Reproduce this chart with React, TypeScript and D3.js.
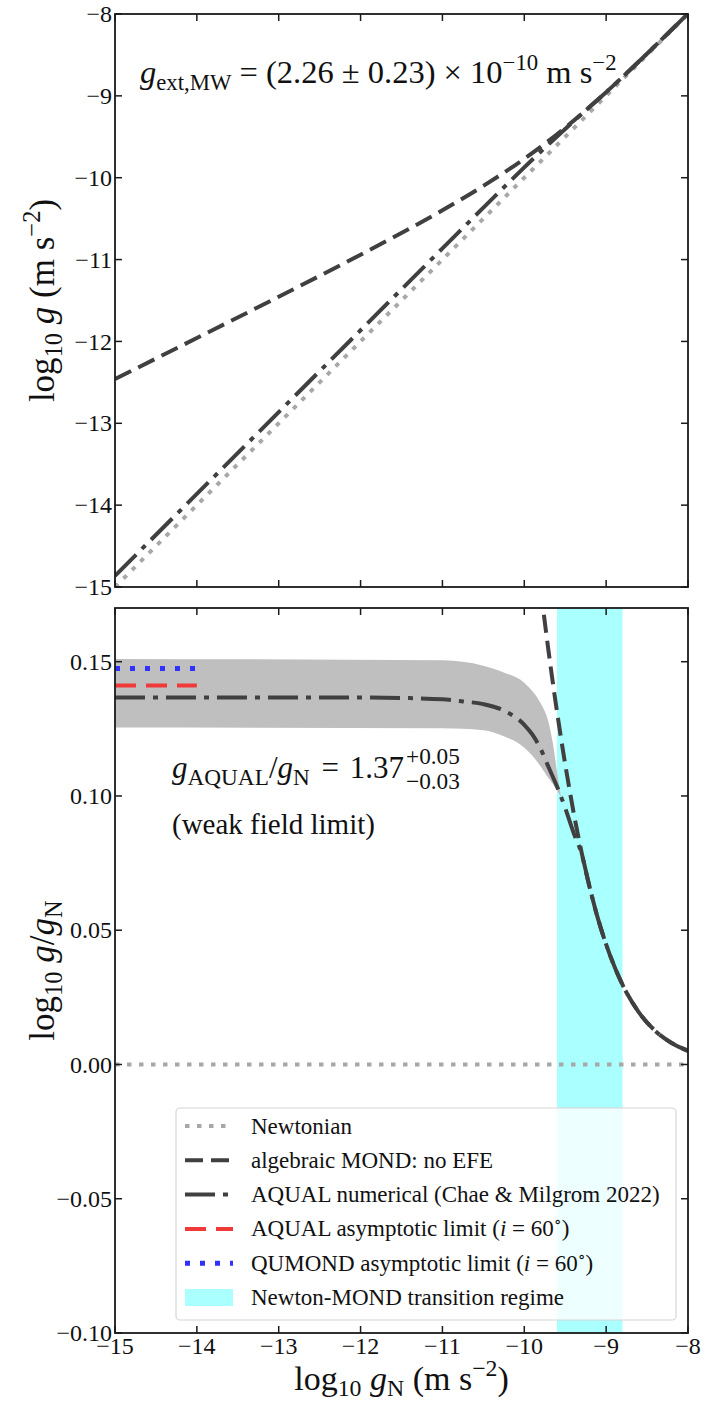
import React, { useLayoutEffect, useRef, useState } from "react";
import * as d3 from "d3";

// ---------- data ----------
const xTicks = [-15, -14, -13, -12, -11, -10, -9, -8];
const topYTicks = [-15, -14, -13, -12, -11, -10, -9, -8];
const bottomYTicks = [-0.1, -0.05, 0, 0.05, 0.1, 0.15];

const newtonX = [-15, -8];

// algebraic MOND (no EFE): log10 g/gN vs log10 gN
const mondX = [-15, -14, -13, -12, -11, -10.5, -10, -9.8, -9.7, -9.6, -9.5, -9.4, -9.3, -9.2, -9.1, -9.0, -8.8, -8.6, -8.4, -8.2, -8.0];
const mondBoost = [2.54, 2.0416, 1.5459, 1.0594, 0.6021, 0.3999, 0.2315, 0.1771, 0.1531, 0.1313, 0.1118, 0.0943, 0.079, 0.0658, 0.0543, 0.0447, 0.0297, 0.0194, 0.0125, 0.008, 0.0051];

// AQUAL numerical (Chae & Milgrom 2022)
const aqualX = [-15, -12, -11.5, -11, -10.75, -10.5, -10.25, -10, -9.9, -9.8, -9.7, -9.6, -9.5, -9.4, -9.3, -9.2, -9.1, -9.0, -8.8, -8.6, -8.4, -8.2, -8.0];
const aqualBoost = [0.1367, 0.1367, 0.1365, 0.136, 0.1352, 0.1342, 0.1318, 0.1265, 0.1228, 0.1175, 0.1105, 0.1035, 0.0955, 0.0865, 0.0785, 0.0658, 0.0543, 0.0447, 0.0297, 0.0194, 0.0125, 0.008, 0.0051];

// uncertainty band of AQUAL numerical
const bandX = [-15, -11, -10.5, -10.25, -10, -9.9, -9.8, -9.7, -9.65, -9.6, -9.55];
const bandUpper = [0.151, 0.1505, 0.1485, 0.146, 0.1422, 0.139, 0.1345, 0.127, 0.1195, 0.109, 0.0995];
const bandLower = [0.1255, 0.1252, 0.1245, 0.1222, 0.118, 0.115, 0.111, 0.1065, 0.1045, 0.102, 0.0995];

const asymX = [-15, -14];
const aqualAsymptote = 0.1411;
const qumondAsymptote = 0.1475;
const transitionRange = [-9.6, -8.8];

const legendLabels = [
  "Newtonian",
  "algebraic MOND: no EFE",
  "AQUAL numerical (Chae & Milgrom 2022)",
  "AQUAL asymptotic limit",
  "QUMOND asymptotic limit",
  "Newton-MOND transition regime",
];

// ---------- styling ----------
const FONT = "Liberation Serif, Times New Roman, Times, DejaVu Serif, serif";
const DARK = "#404040";
const GRAY_DOT = "#a8a8a8";
const RED = "#f03a3a";
const BLUE = "#3030ff";
const CYAN = "#aaffff";
const BAND = "#bfbfbf";

const W = 707;
const H = 1403;
const L = 115;
const R = 688;
const TOP_T = 14;
const TOP_B = 587;
const BOT_T = 608;
const BOT_B = 1333;

const x = d3.scaleLinear().domain([-15, -8]).range([L, R]);
const yTop = d3.scaleLinear().domain([-15, -8]).range([TOP_B, TOP_T]);
const yBot = d3.scaleLinear().domain([-0.1, 0.17]).range([BOT_B, BOT_T]);

const minus = (s: string) => s.replace(/-/g, "\u2212");

type Seg = { t: string; k?: "sub" | "sup"; i?: boolean; dx?: number };

function Rich({ segs, size, sc = 0.7, subShift = 0.22, ...rest }: { segs: Seg[]; size: number; sc?: number; subShift?: number; [k: string]: any }) {
  let cur = 0;
  return (
    <text fontSize={size} fill="#111" style={{ whiteSpace: "pre", fontFamily: FONT }} {...rest}>
      {segs.map((s, i) => {
        const target = s.k === "sub" ? subShift * size : s.k === "sup" ? -0.4 * size : 0;
        const dy = target - cur;
        cur = target;
        return (
          <tspan key={i} dy={dy} dx={s.dx || 0} fontSize={s.k ? size * sc : size} fontStyle={s.i ? "italic" : "normal"}>
            {s.t}
          </tspan>
        );
      })}
    </text>
  );
}

function Ticks({ yScale, yTicks, top, bottom, yFmt, showX }: any) {
  const tl = 7;
  return (
    <g stroke="#1a1a1a" strokeWidth={1.5}>
      {xTicks.map((t) => (
        <g key={"x" + t}>
          <line x1={x(t)} x2={x(t)} y1={bottom} y2={bottom - tl} />
          <line x1={x(t)} x2={x(t)} y1={top} y2={top + tl} />
        </g>
      ))}
      {yTicks.map((t: number) => (
        <g key={"y" + t}>
          <line x1={L} x2={L + tl} y1={yScale(t)} y2={yScale(t)} />
          <line x1={R} x2={R - tl} y1={yScale(t)} y2={yScale(t)} />
        </g>
      ))}
      <g stroke="none" fill="#111" fontSize={24} style={{ fontFamily: FONT }}>
        {yTicks.map((t: number) => (
          <text key={"yl" + t} x={L - 3} y={yScale(t)} dy="0.34em" textAnchor="end">
            {yFmt(t)}
          </text>
        ))}
        {showX &&
          xTicks.map((t) => (
            <text key={"xl" + t} x={x(t)} y={bottom + 21} textAnchor="middle">
              {minus(String(t))}
            </text>
          ))}
      </g>
    </g>
  );
}

export default function App() {
  const mainRef = useRef<SVGTextElement>(null);
  const [scriptX, setScriptX] = useState(452);
  useLayoutEffect(() => {
    if (mainRef.current) {
      const bb = mainRef.current.getBBox();
      setScriptX(bb.x + bb.width + 2);
    }
  }, []);

  const line = d3.line<[number, number]>().curve(d3.curveMonotoneX);

  // top panel paths
  const topNewton = d3.line<number>().x((d) => x(d)).y((d) => yTop(d))(newtonX);
  const topMond = d3
    .line<number>()
    .curve(d3.curveMonotoneX)
    .x((d) => x(d))
    .y((d, i) => yTop(d + mondBoost[i]))(mondX);
  const topAqual = d3
    .line<number>()
    .curve(d3.curveMonotoneX)
    .x((d) => x(d))
    .y((d, i) => yTop(d + aqualBoost[i]))(aqualX);

  // bottom panel paths
  const botNewton = d3.line<number>().x((d) => x(d)).y(() => yBot(0))(newtonX);
  const mondPts: [number, number][] = mondX
    .map((v, i) => [v, mondBoost[i]] as [number, number])
    .filter((p) => p[0] >= -9.85)
    .map((p) => [x(p[0]), yBot(p[1])]);
  const botMond = line(mondPts);
  const botAqual = d3
    .line<number>()
    .curve(d3.curveMonotoneX)
    .x((d) => x(d))
    .y((d, i) => yBot(aqualBoost[i]))(aqualX);
  const bandPath = d3
    .area<number>()
    .curve(d3.curveMonotoneX)
    .x((d) => x(d))
    .y0((d, i) => yBot(bandLower[i]))
    .y1((d, i) => yBot(bandUpper[i]))(bandX);
  const redPath = d3.line<number>().x((d) => x(d)).y(() => yBot(aqualAsymptote))(asymX);
  const bluePath = d3.line<number>().x((d) => x(d)).y(() => yBot(qumondAsymptote))(asymX);

  const dotted = "4.5 7.5";
  const dashed = "18 8";
  const dashdot = "30 8 5 8";
  const redDash = "21 10";
  const blueDot = "5 10";

  // legend
  const lgX = 176;
  const lgY = 1108;
  const lgW = 500;
  const lgH = 212;
  const rowY = (i: number) => 1126 + i * 34.3;
  const hx1 = 185;
  const hx2 = 233;
  const tx = 251;

  const aF = 31;
  const aS = aF * 0.75;

  return (
    <svg width={W} height={H} style={{ position: "absolute", left: 0, top: 0, background: "#fff" }}>
      <defs>
        <clipPath id="clipTop">
          <rect x={L} y={TOP_T} width={R - L} height={TOP_B - TOP_T} />
        </clipPath>
        <clipPath id="clipBot">
          <rect x={L} y={BOT_T} width={R - L} height={BOT_B - BOT_T} />
        </clipPath>
      </defs>
      <rect x={0} y={0} width={W} height={H} fill="#fff" />

      {/* ---------- TOP PANEL ---------- */}
      <g clipPath="url(#clipTop)" fill="none">
        <path d={topNewton || ""} stroke={GRAY_DOT} strokeWidth={4} strokeDasharray={dotted} />
        <path d={topMond || ""} stroke={DARK} strokeWidth={4} strokeDasharray={dashed} />
        <path d={topAqual || ""} stroke={DARK} strokeWidth={4} strokeDasharray={dashdot} />
      </g>
      <rect x={L} y={TOP_T} width={R - L} height={TOP_B - TOP_T} fill="none" stroke="#1a1a1a" strokeWidth={1.8} />
      <Ticks yScale={yTop} yTicks={topYTicks} top={TOP_T} bottom={TOP_B} yFmt={(t: number) => minus(String(t))} showX={false} />
      <Rich
        x={140}
        y={83}
        size={32.5}
        segs={[
          { t: "g", i: true },
          { t: "ext,MW", k: "sub" },
          { t: " = (2.26 ± 0.23) × 10" },
          { t: "−10", k: "sup" },
          { t: " m s" },
          { t: "−2", k: "sup" },
        ]}
      />
      <Rich
        transform={`translate(54,${(TOP_T + TOP_B) / 2}) rotate(-90)`}
        textAnchor="middle"
        size={35}
        segs={[
          { t: "log" },
          { t: "10", k: "sub" },
          { t: " g", i: true },
          { t: " (m s" },
          { t: "−2", k: "sup" },
          { t: ")" },
        ]}
      />

      {/* ---------- BOTTOM PANEL ---------- */}
      <g clipPath="url(#clipBot)" fill="none">
        <rect
          x={x(transitionRange[0])}
          y={BOT_T}
          width={x(transitionRange[1]) - x(transitionRange[0])}
          height={BOT_B - BOT_T}
          fill={CYAN}
        />
        <path d={bandPath || ""} fill={BAND} stroke="none" />
        <path d={botNewton || ""} stroke={GRAY_DOT} strokeWidth={4} strokeDasharray={dotted} />
        <path d={botMond || ""} stroke={DARK} strokeWidth={4} strokeDasharray={dashed} />
        <path d={botAqual || ""} stroke={DARK} strokeWidth={4} strokeDasharray={dashdot} />
        <path d={redPath || ""} stroke={RED} strokeWidth={4} strokeDasharray={redDash} />
        <path d={bluePath || ""} stroke={BLUE} strokeWidth={5} strokeDasharray={blueDot} />
      </g>

      {/* annotation */}
      <text ref={mainRef} x={172} y={778} fontSize={aF} fill="#111" style={{ whiteSpace: "pre", fontFamily: FONT }}>
        <tspan fontStyle="italic">g</tspan>
        <tspan dy={7} fontSize={aS}>AQUAL</tspan>
        <tspan dy={-7}>/</tspan>
        <tspan fontStyle="italic">g</tspan>
        <tspan dy={7} fontSize={aS}>N</tspan>
        <tspan dy={-7} dx={4}> = </tspan>
        <tspan dx={3}>1.37</tspan>
      </text>
      <text x={scriptX} y={778 - 14} fontSize={aS} fill="#111" style={{ fontFamily: FONT }}>
        +0.05
      </text>
      <text x={scriptX} y={778 + 11} fontSize={aS} fill="#111" style={{ fontFamily: FONT }}>
        −0.03
      </text>
      <text x={172} y={834} fontSize={29} fill="#111" style={{ fontFamily: FONT }}>
        (weak field limit)
      </text>

      {/* legend */}
      <g>
        <rect x={lgX} y={lgY} width={lgW} height={lgH} rx={4} fill="#fff" fillOpacity={0.8} stroke="#d6d6d6" strokeWidth={1.2} />
        <line x1={hx1} x2={hx2} y1={rowY(0)} y2={rowY(0)} stroke={GRAY_DOT} strokeWidth={4} strokeDasharray={dotted} />
        <line x1={hx1} x2={hx2} y1={rowY(1)} y2={rowY(1)} stroke={DARK} strokeWidth={4} strokeDasharray={dashed} />
        <line x1={hx1} x2={hx2} y1={rowY(2)} y2={rowY(2)} stroke={DARK} strokeWidth={4} strokeDasharray={dashdot} />
        <line x1={hx1} x2={hx2} y1={rowY(3)} y2={rowY(3)} stroke={RED} strokeWidth={4} strokeDasharray={redDash} />
        <line x1={hx1} x2={hx2} y1={rowY(4)} y2={rowY(4)} stroke={BLUE} strokeWidth={5} strokeDasharray={blueDot} />
        <rect x={hx1} y={rowY(5) - 8.5} width={hx2 - hx1} height={17} fill={CYAN} />
        <g fontSize={23} fill="#111" style={{ whiteSpace: "pre", fontFamily: FONT }}>
          {legendLabels.map((lab, i) => (
            <text key={lab} x={tx} y={rowY(i)} dy="0.33em">
              {lab}
              {(i === 3 || i === 4) && (
                <>
                  <tspan> (</tspan>
                  <tspan fontStyle="italic">i</tspan>
                  <tspan> = 60</tspan>
                  <tspan dy={-9} fontSize={16}>∘</tspan>
                  <tspan dy={9}>)</tspan>
                </>
              )}
            </text>
          ))}
        </g>
      </g>

      <rect x={L} y={BOT_T} width={R - L} height={BOT_B - BOT_T} fill="none" stroke="#1a1a1a" strokeWidth={1.8} />
      <Ticks
        yScale={yBot}
        yTicks={bottomYTicks}
        top={BOT_T}
        bottom={BOT_B}
        yFmt={(t: number) => minus(t.toFixed(2))}
        showX={true}
      />
      <Rich
        transform={`translate(54,${(BOT_T + BOT_B) / 2}) rotate(-90)`}
        textAnchor="middle"
        size={35}
        segs={[
          { t: "log" },
          { t: "10", k: "sub" },
          { t: " g", i: true },
          { t: "/" },
          { t: "g", i: true },
          { t: "N", k: "sub" },
        ]}
      />
      <Rich
        x={(L + R) / 2}
        y={1390}
        textAnchor="middle"
        size={34}
        subShift={0.18}
        segs={[
          { t: "log" },
          { t: "10", k: "sub" },
          { t: " g", i: true },
          { t: "N", k: "sub" },
          { t: " (m s" },
          { t: "−2", k: "sup" },
          { t: ")" },
        ]}
      />
    </svg>
  );
}
